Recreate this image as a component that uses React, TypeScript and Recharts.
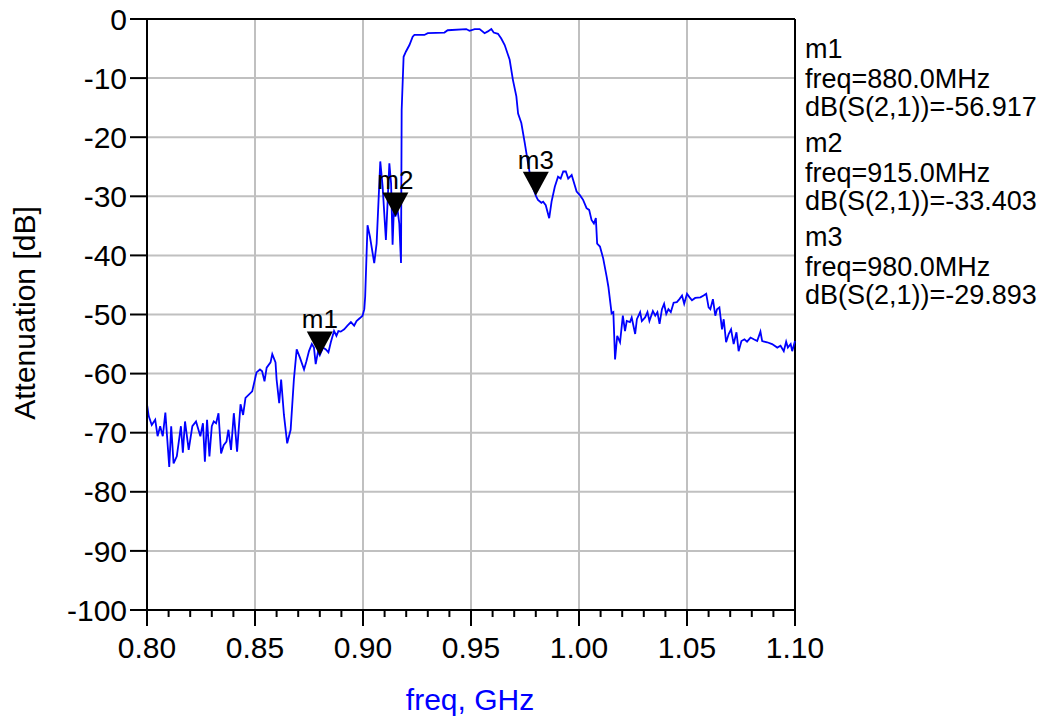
import React from 'react';
import {
  LineChart,
  Line,
  XAxis,
  YAxis,
  CartesianGrid,
  ReferenceLine,
  ReferenceDot,
} from 'recharts';

const FONT = '"Liberation Sans", Arial, Helvetica, sans-serif';

// [freq in GHz, dB(S(2,1))]
const lowStopA: [number, number][] = [
  [0.8000, -65.2], [0.8008, -67.2], [0.8022, -68.7], [0.8038, -67.8], [0.8049, -70.6],
  [0.8061, -68.9], [0.8073, -70.6], [0.8085, -66.6], [0.8103, -75.8], [0.8112, -68.9],
  [0.8123, -75.2], [0.8138, -74.0], [0.8157, -68.9], [0.8166, -73.4], [0.8176, -68.1],
  [0.8193, -72.9], [0.8210, -68.9], [0.8227, -68.1], [0.8247, -70.6], [0.8259, -68.4],
  [0.8268, -74.9], [0.8278, -67.8], [0.8289, -74.0], [0.8300, -68.9], [0.8309, -68.1],
  [0.8320, -68.4], [0.8331, -66.7], [0.8343, -73.5], [0.8355, -72.1], [0.8368, -71.5],
  [0.8377, -69.5], [0.8389, -72.9], [0.8402, -66.7], [0.8417, -73.2], [0.8433, -65.2],
  [0.8445, -67.0], [0.8456, -64.1], [0.8487, -63.0],
];

const lowStopB: [number, number][] = [
  [0.8507, -59.8], [0.8523, -59.3], [0.8533, -59.6], [0.8544, -61.3], [0.8554, -59.0],
  [0.8572, -58.1], [0.8580, -56.7], [0.8595, -58.1], [0.8600, -61.0], [0.8612, -65.0],
  [0.8621, -61.0], [0.8634, -67.0], [0.8649, -71.8], [0.8665, -69.5], [0.8680, -61.0],
  [0.8693, -55.9], [0.8708, -57.3], [0.8727, -59.3], [0.8738, -57.9], [0.8750, -56.2],
  [0.8763, -55.0], [0.8773, -55.6], [0.8781, -58.4], [0.8792, -56.2], [0.8800, -56.9],
  [0.8815, -55.6], [0.8828, -55.9], [0.8840, -56.4], [0.8851, -54.7], [0.8866, -52.8],
  [0.8877, -53.6], [0.8886, -52.8], [0.8897, -52.9], [0.8913, -52.5], [0.8928, -51.9],
  [0.8944, -51.3], [0.8959, -51.9], [0.8970, -51.1], [0.8986, -50.6], [0.8998, -50.2],
  [0.9006, -49.1],
];

const passband: [number, number][] = [
  [0.9010, -47.0], [0.9021, -34.9], [0.9032, -36.8], [0.9052, -41.3], [0.9063, -38.0],
  [0.9080, -24.1], [0.9091, -28.4], [0.9106, -37.4], [0.9122, -24.4], [0.9130, -27.8],
  [0.9137, -38.2], [0.9145, -30.1], [0.9150, -33.4], [0.9160, -32.3], [0.9168, -34.6],
  [0.9176, -41.3], [0.9179, -15.4], [0.9188, -6.4], [0.9199, -5.5], [0.9215, -4.4],
  [0.9230, -3.0], [0.9238, -2.7], [0.9284, -2.7], [0.9300, -2.4], [0.9377, -2.3],
  [0.9392, -1.9], [0.9478, -1.7], [0.9493, -2.0], [0.9517, -1.7], [0.9540, -1.7],
  [0.9563, -2.4], [0.9578, -2.1], [0.9594, -1.7], [0.9605, -2.3], [0.9625, -2.5],
  [0.9640, -3.3], [0.9656, -4.4], [0.9679, -6.9], [0.9694, -10.3], [0.9710, -13.1],
  [0.9718, -16.0], [0.9733, -17.6], [0.9749, -21.0], [0.9764, -24.4], [0.9780, -27.8],
];

const highSkirt: [number, number][] = [
  [0.9800, -29.9], [0.9810, -30.6], [0.9826, -31.1], [0.9834, -30.9], [0.9846, -31.5],
  [0.9862, -33.7], [0.9873, -30.9], [0.9888, -28.4], [0.9903, -26.7], [0.9915, -27.0],
  [0.9927, -25.8], [0.9939, -25.8], [0.9950, -27.0], [0.9966, -26.4], [0.9989, -29.2],
  [1.0004, -29.8], [1.0019, -30.6], [1.0035, -32.0], [1.0047, -32.3], [1.0058, -34.0],
  [1.0069, -34.6], [1.0078, -33.7], [1.0084, -38.0], [1.0097, -38.5], [1.0112, -40.5],
  [1.0128, -43.6], [1.0136, -45.3],
];

const highStop: [number, number][] = [
  [1.0151, -49.8], [1.0159, -49.6], [1.0167, -57.6], [1.0177, -53.6], [1.0190, -54.7],
  [1.0203, -50.2], [1.0213, -52.8], [1.0221, -51.1], [1.0236, -51.3], [1.0244, -50.5],
  [1.0260, -53.3], [1.0268, -50.8], [1.0283, -49.6], [1.0291, -51.1], [1.0306, -50.5],
  [1.0317, -49.6], [1.0326, -51.1], [1.0342, -49.4], [1.0353, -50.2], [1.0363, -49.6],
  [1.0373, -51.6], [1.0384, -49.1], [1.0394, -48.2], [1.0404, -49.9], [1.0414, -49.1],
  [1.0425, -49.6], [1.0438, -48.0], [1.0453, -47.9], [1.0465, -47.4], [1.0477, -46.8],
  [1.0487, -48.2], [1.0500, -46.5], [1.0512, -47.1], [1.0523, -47.6], [1.0538, -47.2],
  [1.0562, -47.1], [1.0577, -46.8], [1.0589, -46.5], [1.0600, -48.8], [1.0608, -49.1],
  [1.0620, -47.4], [1.0631, -50.2], [1.0639, -49.1], [1.0650, -48.8], [1.0662, -52.5],
  [1.0670, -50.8], [1.0681, -54.7], [1.0693, -53.3], [1.0704, -52.5], [1.0716, -55.0],
  [1.0729, -53.0], [1.0739, -56.2], [1.0752, -54.5], [1.0766, -54.2], [1.0778, -54.6],
  [1.0794, -53.9], [1.0809, -54.2], [1.0825, -54.5], [1.0840, -52.9], [1.0848, -54.5],
  [1.0871, -54.7], [1.0894, -55.0], [1.0918, -55.6], [1.0933, -55.3], [1.0948, -56.2],
  [1.0959, -54.6], [1.0967, -55.6], [1.0980, -55.0], [1.0987, -56.2], [1.1000, -54.5],
];

// markers
const markerNames = ['m1', 'm2', 'm3'];
const markerFreqMHz = [880.0, 915.0, 980.0];
const markerDb = [-56.917, -33.403, -29.893];

// axes
const xMajorTicks = [0.8, 0.85, 0.9, 0.95, 1.0, 1.05, 1.1];
const xAllTicks = [
  0.80, 0.81, 0.82, 0.83, 0.84, 0.85, 0.86, 0.87, 0.88, 0.89, 0.90,
  0.91, 0.92, 0.93, 0.94, 0.95, 0.96, 0.97, 0.98, 0.99, 1.00,
  1.01, 1.02, 1.03, 1.04, 1.05, 1.06, 1.07, 1.08, 1.09, 1.10,
];
const yTicks = [0, -10, -20, -30, -40, -50, -60, -70, -80, -90, -100];
const xGrid = [0.85, 0.9, 0.95, 1.0, 1.05];
const yGrid = [-10, -20, -30, -40, -50, -60, -70, -80, -90];

const data = [...lowStopA, ...lowStopB, ...passband, ...highSkirt, ...highStop].map(
  ([freq, db]) => ({ freq, db })
);

const FreqTick = (props: any) => {
  const { x, y, payload } = props;
  const v = payload.value as number;
  const major = xMajorTicks.some((m) => Math.abs(m - v) < 1e-6);
  return (
    <g>
      <line x1={x} y1={y} x2={x} y2={y + (major ? 16 : 7)} stroke="#000" strokeWidth={2} />
      {major && (
        <text x={x} y={y + 48} textAnchor="middle" fontSize={30} fontFamily={FONT} fill="#000">
          {v.toFixed(2)}
        </text>
      )}
    </g>
  );
};

const markerShape = (name: string) => (props: any) => {
  const { cx, cy } = props;
  return (
    <g>
      <polygon points={`${cx - 13},${cy - 24} ${cx + 13},${cy - 24} ${cx},${cy}`} fill="#000" />
      <text x={cx} y={cy - 27} textAnchor="middle" fontSize={26} fontFamily={FONT} fill="#000">
        {name}
      </text>
    </g>
  );
};

export default function App() {
  return (
    <div style={{ position: 'absolute', left: 0, top: 0, width: 1050, height: 720, background: '#fff' }}>
      <LineChart
        width={1050}
        height={720}
        data={data}
        margin={{ top: 19, right: 255, left: 0, bottom: 0 }}
      >
        <CartesianGrid
          stroke="#c0c0c0"
          strokeWidth={2}
          verticalValues={xGrid}
          horizontalValues={yGrid}
        />
        <XAxis
          dataKey="freq"
          type="number"
          domain={[0.8, 1.1]}
          ticks={xAllTicks}
          interval={0}
          height={110}
          tickSize={0}
          tickMargin={0}
          tickLine={false}
          axisLine={{ stroke: '#000', strokeWidth: 2 }}
          tick={<FreqTick />}
        />
        <YAxis
          type="number"
          domain={[-100, 0]}
          ticks={yTicks}
          interval={0}
          width={147}
          tickSize={17}
          tickMargin={3}
          axisLine={{ stroke: '#000', strokeWidth: 2 }}
          tickLine={{ stroke: '#000', strokeWidth: 2 }}
          tick={{ fontSize: 30, fill: '#000', fontFamily: FONT }}
        />
        <ReferenceLine y={0} stroke="#000" strokeWidth={2} ifOverflow="visible" />
        <ReferenceLine x={1.1} stroke="#000" strokeWidth={2} ifOverflow="visible" />
        <Line
          type="linear"
          dataKey="db"
          stroke="#0000ff"
          strokeWidth={1.8}
          dot={false}
          activeDot={false}
          isAnimationActive={false}
        />
        {markerNames.map((name, i) => (
          <ReferenceDot
            key={name}
            x={markerFreqMHz[i] / 1000}
            y={markerDb[i]}
            r={0}
            ifOverflow="visible"
            shape={markerShape(name)}
          />
        ))}
      </LineChart>
      <svg
        width={1050}
        height={720}
        style={{ position: 'absolute', left: 0, top: 0, pointerEvents: 'none' }}
        fontFamily={FONT}
      >
        <text
          x={35}
          y={313}
          transform="rotate(-90 35 313)"
          textAnchor="middle"
          fontSize={30}
          fill="#000"
        >
          Attenuation [dB]
        </text>
        <text x={470} y={710} textAnchor="middle" fontSize={30} fill="#0000ff">
          freq, GHz
        </text>
        {markerNames.map((name, i) => {
          const base = 58 + i * 94;
          return (
            <g key={name} fontSize={27} fill="#000">
              <text x={805} y={base}>{name}</text>
              <text x={805} y={base + 30}>{`freq=${markerFreqMHz[i].toFixed(1)}MHz`}</text>
              <text x={805} y={base + 58}>{`dB(S(2,1))=${markerDb[i].toFixed(3)}`}</text>
            </g>
          );
        })}
      </svg>
    </div>
  );
}
